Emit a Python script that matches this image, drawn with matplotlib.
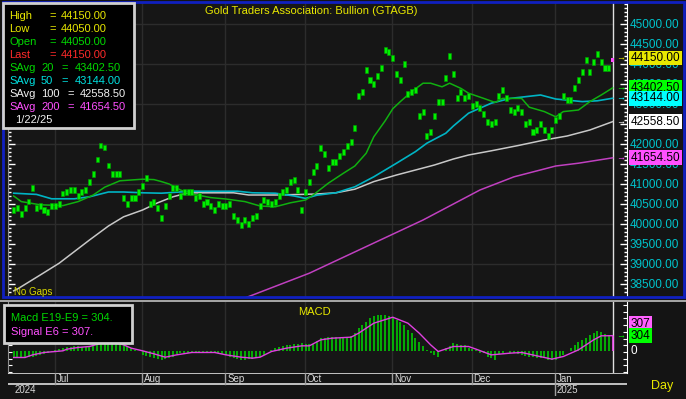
import numpy as np
import pandas as pd
import matplotlib
matplotlib.use('Agg')
import matplotlib.pyplot as plt
from matplotlib.patches import Rectangle
from matplotlib.transforms import blended_transform_factory

plt.rcParams['font.family'] = ['Liberation Sans', 'DejaVu Sans']

W, H = 686, 399
BG = '#161616'
GRID = '#2c2c2c'
YELLOW = '#e8e800'
GREEN = '#00e000'
DKGREEN = '#10b010'
CYAN = '#00b4c4'
LABCYAN = '#00c4cc'
WHITE = '#f0f0f0'
MAGENTA = '#ff50ff'
RED = '#ff2a2a'

# ---- data ----
dates = pd.bdate_range('2024-06-14', '2025-01-22')

closes = [
    40350, 40400, 40250, 40400, 40560, 40900, 40400, 40450, 40350, 40300,
    40450, 40450, 40500, 40760, 40800, 40850, 40850, 40700, 40800, 40850,
    41050, 41250, 41610, 41960, 41910, 41460, 41250, 41250, 41250, 40650,
    40500, 40650, 40650, 40800, 40950, 41150, 40500, 40550, 40400, 40150,
    40450,
    40700, 40900, 40900, 40700, 40800, 40800, 40800, 40650, 40700, 40500,
    40550, 40450, 40350, 40500, 40450, 40450, 40500, 40200, 40100, 39970,
    40100, 40000, 40150, 40200, 40450, 40600, 40550, 40500, 40550, 40700,
    40800, 40850, 41050, 41100, 40850, 40350, 40800, 41050,
    41300, 41450, 41900, 41750, 41400, 41550, 41550, 41700, 41800, 41950,
    42050, 42400, 43200, 43300, 43850, 43600, 43500, 43700, 43900, 44350,
    44300, 44150, 43750, 43600, 44000, 43250, 43300, 43350, 42700, 42800,
    42200, 42300, 42700, 43050, 43050, 43650, 44200, 43750,
    43150, 43300, 43150, 43200, 42950, 43000, 42900, 42750, 42550, 42500,
    42550, 43200, 43350, 43150, 42850, 42800, 42900, 42800, 42500, 42550,
    42300, 42350, 42500, 42350, 42200, 42350, 42600, 42700, 43200, 43100,
    43100, 43400, 43600, 43800, 44100, 43800, 44050, 44250, 44050, 43900,
    43900,
    44100,
]
last_high, last_low = 44150, 44050

# moving averages: (bar index, value)
sma20_i = [0, 2, 7, 13, 17, 21, 24, 28, 34, 37, 39, 41, 44, 47, 52, 56, 61, 65, 69, 73,
           77, 79, 83, 87, 90, 93, 95, 98, 100, 102, 105, 108, 110, 113, 115, 118, 120,
           124, 127, 129, 134, 136, 140, 143, 145, 149, 152, 155, 158]
sma20_v = [40700, 40560, 40480, 40460, 40560, 40725, 40920, 41080, 41120, 41110, 41060,
           41000, 40850, 40750, 40660, 40625, 40560, 40450, 40430, 40530, 40600, 40725,
           41020, 41270, 41450, 41770, 42180, 42580, 42880, 43060, 43310, 43520, 43520,
           43430, 43520, 43390, 43270, 43140, 43040, 43140, 43140, 42920, 42810, 42680,
           42810, 42850, 43060, 43225, 43402.5]

sma50_i = [0, 6, 10, 16, 20, 25, 29, 34, 39, 47, 59, 63, 69, 74, 77, 80, 85, 90, 95, 101,
           106, 109, 114, 116, 120, 126, 131, 139, 143, 150, 154, 158]
sma50_v = [40770, 40740, 40630, 40630, 40680, 40800, 40800, 40780, 40770, 40820, 40820,
           40780, 40770, 40700, 40640, 40720, 40780, 40930, 41180, 41520, 41810, 42020,
           42270, 42450, 42770, 43020, 43140, 43225, 43125, 43060, 43080, 43144]

sma100_i = [0, 1, 7, 12, 16, 20, 25, 29, 34, 38, 42, 46, 58, 62, 69, 76, 80, 85, 90, 95,
            101, 106, 111, 116, 120, 126, 133, 140, 146, 152, 158]
sma100_v = [38330, 38375, 38725, 39020, 39310, 39600, 39950, 40180, 40350, 40530, 40680,
            40780, 40780, 40725, 40725, 40740, 40750, 40780, 40870, 41060, 41225, 41350,
            41475, 41625, 41725, 41830, 41960, 42100, 42200, 42350, 42558.5]

sma200_i = [61, 78, 108, 113, 116, 123, 132, 143, 149, 158]
sma200_v = [38150, 38770, 40100, 40350, 40500, 40850, 41180, 41450, 41520, 41654.5]

macd = [
    -120, -125, -125, -120, -110, -100, -90, -70, -50, -30, -10,
    20, 50, 70, 80, 90, 100, 97, 85, 90, 95, 110,
    170, 250, 300, 320, 320, 300, 250, 180,
    100, 60, 30, 0,
    -65, -90, -110, -130, -150, -160, -150, -120, -97,
    -40, -30, -20, -20, -20, -25, -30, -30, -25, -20, -25, -30, -40, -60,
    -100, -130, -150, -160, -160, -150, -140, -130, -110, -70,
    0, 30, 60, 90, 110, 120, 130,
    140, 150, 160, 150, 140, 150,
    200, 260, 270, 280, 280, 275, 270, 280, 290, 300,
    355, 450, 520, 580, 650, 690, 710, 710, 700, 690,
    650, 620, 580, 520, 420, 360, 260, 190, 100, 20, -30, -65, -97,
    0, 60, 100, 160, 140, 130, 120, 65, 45, 30,
    -30, -30, -97, -130, -160,
    -45, -20, 0, -20, -30, -45,
    -65, -80, -100, -110, -120, -130, -130,
    -160, -160, -160, -100, -65, 0,
    65, 130, 190, 230, 260, 320, 360, 390, 380, 330, 320, 304,
]
signal_i = [0, 3, 5, 8, 11, 13, 14, 17, 20, 23, 25, 29, 31, 34, 37, 40, 43, 47, 53, 56,
            60, 63, 65, 68, 72, 76, 78, 81, 84, 89, 91, 95, 100, 104, 107, 110, 112,
            116, 120, 122, 126, 131, 134, 138, 142, 145, 149, 153, 155, 158]
signal_v = [-116, -116, -65, -19, 0, 13, 45, 78, 97, 160, 200, 129, 65, 13, -45, -110,
            -65, -19, -19, -65, -110, -129, -110, 0, 65, 110, 110, 226, 258, 278, 355,
            549, 665, 549, 355, 129, 0, 97, 97, 45, -65, -32, -19, -84, -148, -97, 32,
            226, 304, 307]

price_ticks = list(range(38500, 45001, 500))

n = len(closes)
x = np.arange(n)
closes = np.array(closes, dtype=float)
month_idx = [i for i in range(1, n) if dates[i].month != dates[i - 1].month]

XMIN, XMAX = -1.5, 161.8
BAR_H = 140


def rect(x0, y0, x1, y1):
    return [x0 / W, 1 - y1 / H, (x1 - x0) / W, (y1 - y0) / H]


fig = plt.figure(figsize=(W / 100, H / 100), dpi=100, facecolor='#141414')

# ---------------- price panel ----------------
ax = fig.add_axes(rect(8, 2, 627, 297), facecolor=BG)
ax.set_xlim(XMIN, XMAX)
ax.set_ylim(38175, 45550)

for v in range(39000, 45001, 1000):
    ax.plot([XMIN, n - 1], [v, v], color=GRID, lw=1, zorder=0)
for i in month_idx:
    ax.axvline(i - 0.15, color=GRID, lw=1, zorder=0)
ax.axvline(n - 1, color='#e0e0e0', lw=1, zorder=1)

ax.plot(sma200_i, sma200_v, color='#c040c0', lw=1.1, zorder=2)
ax.plot(sma100_i, sma100_v, color='#c8c8c8', lw=1.1, zorder=2)
ax.plot(sma50_i, sma50_v, color=CYAN, lw=1.2, zorder=2)
ax.plot(sma20_i, sma20_v, color=DKGREEN, lw=1.1, zorder=2)

ax.bar(x[:-1], BAR_H, bottom=closes[:-1] - BAR_H / 2, width=0.8,
       color='#00f000', edgecolor='#00a000', linewidth=0.4, zorder=3)
ax.bar(x[-1], last_high - last_low, bottom=last_low, width=0.8,
       color=MAGENTA, linewidth=0, zorder=3)

ax.yaxis.set_ticks_position('both')
ax.yaxis.set_label_position('right')
ax.tick_params(axis='y', labelleft=False, labelright=True)
ax.set_yticks(price_ticks)
ax.set_yticklabels([f'{v:.2f}' for v in price_ticks])
ax.set_yticks(range(38300, 45501, 100), minor=True)
ax.tick_params(axis='y', which='major', direction='in', length=5, width=1,
               color='white', labelcolor=LABCYAN, labelsize=8.5, pad=2)
ax.tick_params(axis='y', which='minor', direction='in', length=2.5, width=1, color='white')
ax.tick_params(axis='x', bottom=False, labelbottom=False)
for s in ['top', 'bottom']:
    ax.spines[s].set_visible(False)
ax.spines['right'].set_color('white')
ax.spines['left'].set_color('#909090')

# last values boxes on the right
tr = blended_transform_factory(ax.transAxes, ax.transData)
boxes = [(44150.0, YELLOW, YELLOW), (43402.5, '#00ff00', '#00ff00'),
         (43144.0, '#00ffff', '#00ffff'), (42558.5, '#ffffff', '#ffffff'),
         (41654.5, '#ff50ff', '#ff50ff')]
for v, bc, ac in boxes:
    ax.text(1.006, v, f'{v:.2f}', transform=tr, ha='left', va='center', fontsize=8.5,
            color='black', clip_on=False, zorder=6,
            bbox=dict(boxstyle='square,pad=0.12', fc=bc, ec='none'))
    ax.text(160.2, v, '→', ha='center', va='center', fontsize=6.5, color=ac, zorder=5)

# ---------------- MACD panel ----------------
ax2 = fig.add_axes(rect(8, 302, 627, 373), facecolor=BG)
ax2.set_xlim(XMIN, XMAX)
ax2.set_ylim(-417, 960)
for i in month_idx:
    ax2.axvline(i - 0.15, color=GRID, lw=1, zorder=0)
ax2.axvline(n - 1, color='#e0e0e0', lw=1, zorder=1)
ax2.vlines(x[:-1], 0, macd[:-1], color='#00d800', lw=1.1, zorder=2)
ax2.vlines(x[-1], 0, macd[-1], color=MAGENTA, lw=1.1, zorder=2)
ax2.plot(signal_i, signal_v, color='#e040e0', lw=1, zorder=3)

ax2.yaxis.set_ticks_position('both')
ax2.set_yticks(np.arange(-400, 951, 130))
ax2.set_yticklabels([])
ax2.tick_params(axis='y', direction='in', length=3, color='white')
ax2.tick_params(axis='x', bottom=False, labelbottom=False)
for s in ['top', 'bottom']:
    ax2.spines[s].set_visible(False)
ax2.spines['right'].set_color('white')
ax2.spines['left'].set_color('#909090')
tr2 = blended_transform_factory(ax2.transAxes, ax2.transData)
ax2.text(1.006, 0, '0', transform=tr2, ha='left', va='center', fontsize=8.5,
         color='white', clip_on=False)
ax2.annotate('307', (1.006, 307), xycoords=tr2, xytext=(0, 8.5), textcoords='offset points',
             ha='left', va='center', fontsize=8.5, color='black', annotation_clip=False,
             bbox=dict(boxstyle='square,pad=0.12', fc='#ff60ff', ec='none'))
ax2.annotate('304', (1.006, 304), xycoords=tr2, xytext=(0, 0), textcoords='offset points',
             ha='left', va='center', fontsize=8.5, color='black', annotation_clip=False,
             bbox=dict(boxstyle='square,pad=0.12', fc='#00ff00', ec='none'))
ax2.text(160.2, 304, '→', ha='center', va='center', fontsize=6.5, color='#00ff00')

# ---------------- date strip ----------------
ax3 = fig.add_axes(rect(8, 373, 627, 396), facecolor=BG)
ax3.set_xlim(XMIN, XMAX)
ax3.set_ylim(0, 2)
ax3.axis('off')
ax3.axhline(2, color='#e0e0e0', lw=1.2)
ax3.axhline(1.05, color='#e0e0e0', lw=1.2)
for i in month_idx:
    ybot = 0 if dates[i].month == 1 else 1.05
    ax3.plot([i - 0.15, i - 0.15], [ybot, 2], color='#a0a0a0', lw=1)
    ax3.text(i + 0.3, 1.5, dates[i].strftime('%b'), fontsize=7, color='#d8d8d8',
             ha='left', va='center')
    if dates[i].month == 1:
        ax3.text(i + 0.3, 0.5, str(dates[i].year), fontsize=7, color='#d8d8d8',
                 ha='left', va='center')
ax3.text(x[0] + 0.3, 0.5, str(dates[0].year), fontsize=7, color='#d8d8d8',
         ha='left', va='center')

# ---------------- frames / overlays ----------------
def fx(px):
    return px / W


def fy(py):
    return 1 - py / H


fig.patches.append(Rectangle((fx(3), fy(297)), fx(681), 295 / H, transform=fig.transFigure,
                             fill=False, ec='#1020c0', lw=2))
fig.lines.append(plt.Line2D([0, 1], [fy(301), fy(301)], transform=fig.transFigure,
                            color='#c0c0c0', lw=1.2))

fig.text(fx(311), fy(11), 'Gold Traders Association: Bullion (GTAGB)', color=YELLOW,
         fontsize=8, ha='center', va='center')
fig.text(fx(14), fy(292), 'No Gaps', color='#d8d800', fontsize=7, ha='left', va='center')
fig.text(fx(314), fy(312), 'MACD', color=YELLOW, fontsize=8, ha='center', va='center')
fig.text(fx(662), fy(386), 'Day', color=YELLOW, fontsize=9, ha='center', va='center')

# price legend box
fig.patches.append(Rectangle((fx(3), fy(128)), 131 / W, 125 / H, transform=fig.transFigure,
                             fc='black', ec='#d0d0d0', lw=2, zorder=10))
rows = [
    (15.7, [(9, 'High'), (49, '='), (61, '44150.00')], YELLOW),
    (29, [(9, 'Low'), (49, '='), (61, '44050.00')], YELLOW),
    (42, [(9, 'Open'), (49, '='), (61, '44050.00')], '#00d800'),
    (55, [(9, 'Last'), (49, '='), (61, '44150.00')], RED),
    (68, [(9, 'SAvg'), (41, '20'), (61, '='), (75, '43402.50')], '#00d800'),
    (81, [(9, 'SAvg'), (41, '50'), (61, '='), (75, '43144.00')], '#00e0e0'),
    (94, [(9, 'SAvg'), (41, '100'), (67, '='), (80, '42558.50')], WHITE),
    (107, [(9, 'SAvg'), (41, '200'), (67, '='), (80, '41654.50')], MAGENTA),
    (120, [(15, '1/22/25')], WHITE),
]
for yy, parts, c in rows:
    for xx, t in parts:
        fig.text(fx(xx), fy(yy), t, color=c, fontsize=8, ha='left', va='center', zorder=11)

# macd legend box
fig.patches.append(Rectangle((fx(4), fy(343)), 128 / W, 38 / H, transform=fig.transFigure,
                             fc='black', ec='#d0d0d0', lw=2, zorder=10))
fig.text(fx(11), fy(318), 'Macd E19-E9 = 304.', color='#00d800', fontsize=8, ha='left',
         va='center', zorder=11)
fig.text(fx(11), fy(332), 'Signal E6 = 307.', color=MAGENTA, fontsize=8, ha='left',
         va='center', zorder=11)

fig.savefig('out.png', dpi=100, facecolor=fig.get_facecolor())
